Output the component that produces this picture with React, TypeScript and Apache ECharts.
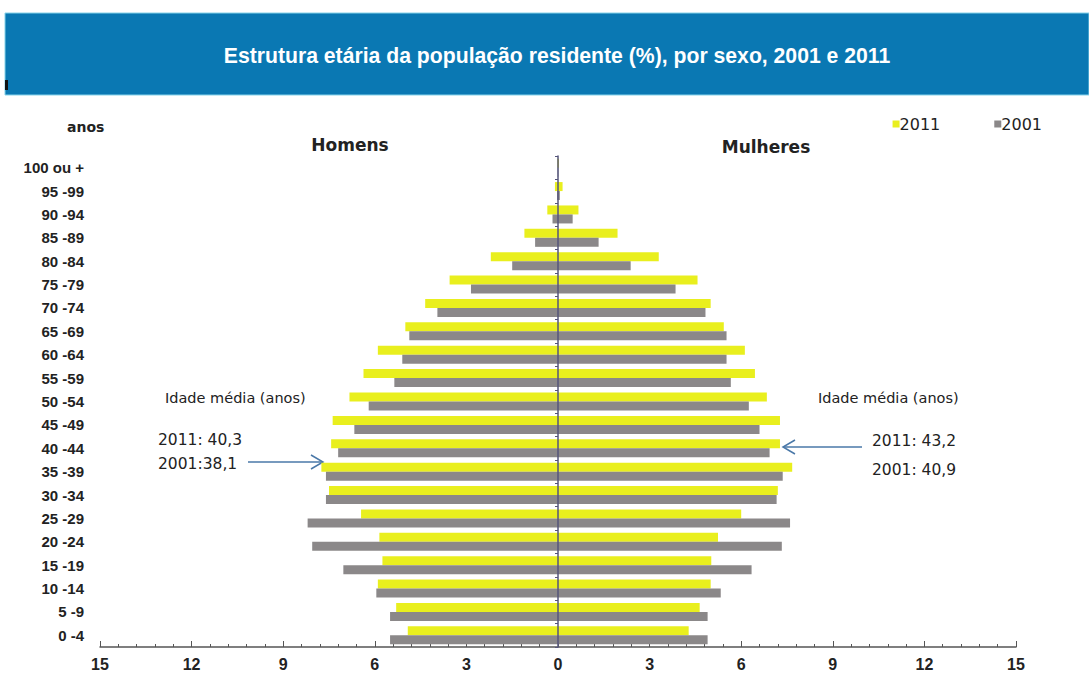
import React, { useEffect, useRef } from "react";
import * as echarts from "echarts";

// Age groups, youngest first (bottom of the pyramid)
const ageGroups = [
  "0 -4", "5 -9", "10 -14", "15 -19", "20 -24", "25 -29", "30 -34",
  "35 -39", "40 -44", "45 -49", "50 -54", "55 -59", "60 -64", "65 -69",
  "70 -74", "75 -79", "80 -84", "85 -89", "90 -94", "95 -99", "100 ou +",
];

// Share of resident population (%) by age group
const men2011 = [4.92, 5.3, 5.9, 5.75, 5.85, 6.45, 7.5, 7.75, 7.43, 7.38, 6.83, 6.37, 5.9, 5.0, 4.35, 3.55, 2.2, 1.1, 0.35, 0.1, 0.02];
const men2001 = [5.5, 5.5, 5.95, 7.03, 8.05, 8.2, 7.6, 7.6, 7.2, 6.67, 6.2, 5.36, 5.1, 4.87, 3.95, 2.85, 1.5, 0.75, 0.18, 0.03, 0.01];
const women2011 = [4.28, 4.64, 5.0, 5.02, 5.24, 6.0, 7.2, 7.67, 7.27, 7.27, 6.84, 6.45, 6.12, 5.43, 5.0, 4.57, 3.3, 1.95, 0.67, 0.15, 0.03];
const women2001 = [4.9, 4.9, 5.33, 6.34, 7.33, 7.6, 7.16, 7.36, 6.93, 6.6, 6.25, 5.66, 5.52, 5.52, 4.83, 3.85, 2.38, 1.33, 0.48, 0.06, 0.01];

const legendYears = ["2011", "2001"];
const xTicks = { min: -15, max: 15, interval: 3 };

const YELLOW = "#e9ef1e";
const GRAY = "#8b8889";
const ARROW = "#4a78a8";
const VERD = "'DejaVu Sans', Verdana, sans-serif";
const ARIAL = "'Liberation Sans', Arial, sans-serif";

export default function App() {
  const ref = useRef<HTMLDivElement>(null);

  useEffect(() => {
    if (!ref.current) return;
    const chart = echarts.init(ref.current, undefined, { renderer: "svg" });

    const barCommon = { type: "bar" as const, barWidth: 9, barGap: "0%", yAxisIndex: 0 };

    chart.setOption({
      animation: false,
      backgroundColor: "#ffffff",
      legend: {
        data: legendYears,
        right: 42,
        top: 111,
        icon: "rect",
        itemWidth: 7,
        itemHeight: 7,
        itemGap: 54,
        textStyle: { fontFamily: VERD, fontSize: 16, color: "#222", padding: [0, 0, 0, -5] },
      },
      grid: { left: 100, right: 73, top: 156, bottom: 28, containLabel: false },
      xAxis: {
        type: "value",
        min: xTicks.min,
        max: xTicks.max,
        interval: xTicks.interval,
        axisLine: { show: true, onZero: false, lineStyle: { color: "#555", width: 1.5 } },
        axisTick: { show: true, inside: true, length: 6, lineStyle: { color: "#555" } },
        minorTick: { show: true, splitNumber: 5, length: 3, lineStyle: { color: "#555" } },
        splitLine: { show: false },
        axisLabel: {
          formatter: (v: number) => String(Math.abs(v)),
          fontFamily: ARIAL,
          fontWeight: "bold",
          fontSize: 16,
          color: "#222",
          margin: 9,
        },
      },
      yAxis: [
        {
          type: "category",
          data: ageGroups,
          position: "left",
          axisLine: { show: false, onZero: false },
          axisTick: { show: false },
          axisLabel: { fontFamily: ARIAL, fontWeight: "bold", fontSize: 15, color: "#222", margin: 16 },
        },
        {
          type: "category",
          data: ageGroups,
          position: "left",
          z: 5,
          axisLine: { show: true, onZero: true, lineStyle: { color: "#55557a", width: 1.5 } },
          axisTick: { show: true, length: 3, lineStyle: { color: "#55557a" } },
          axisLabel: { show: false },
        },
      ],
      series: [
        { ...barCommon, name: "2011", stack: "y2011", itemStyle: { color: YELLOW }, data: men2011.map((v) => -v) },
        { ...barCommon, name: "2011", stack: "y2011", itemStyle: { color: YELLOW }, data: women2011 },
        { ...barCommon, name: "2001", stack: "y2001", itemStyle: { color: GRAY }, data: men2001.map((v) => -v) },
        { ...barCommon, name: "2001", stack: "y2001", itemStyle: { color: GRAY }, data: women2001 },
      ],
      graphic: [
        {
          type: "rect",
          shape: { x: 5, y: 13, width: 1084, height: 82 },
          style: { fill: "#0a78b3", stroke: "#86d3ea", lineWidth: 1 },
        },
        { type: "rect", shape: { x: 5, y: 80, width: 3, height: 10 }, style: { fill: "#111" } },
        {
          type: "text",
          x: 557,
          y: 55,
          style: {
            text: "Estrutura etária da população residente (%), por sexo, 2001 e 2011",
            fill: "#ffffff",
            font: `bold 21.2px ${ARIAL}`,
            align: "center",
            verticalAlign: "middle",
          },
        },
        {
          type: "text",
          x: 67,
          y: 127,
          style: { text: "anos", fill: "#222", font: `bold 14px ${VERD}`, verticalAlign: "middle" },
        },
        {
          type: "text",
          x: 350,
          y: 145,
          style: { text: "Homens", fill: "#222", font: `bold 17px ${VERD}`, align: "center", verticalAlign: "middle" },
        },
        {
          type: "text",
          x: 766,
          y: 147,
          style: { text: "Mulheres", fill: "#222", font: `bold 17px ${VERD}`, align: "center", verticalAlign: "middle" },
        },
        // Mean age, men
        {
          type: "text",
          x: 165,
          y: 398,
          style: { text: "Idade média (anos)", fill: "#222", font: `14.5px ${VERD}`, verticalAlign: "middle" },
        },
        {
          type: "text",
          x: 158,
          y: 440,
          style: { text: "2011: 40,3", fill: "#222", font: `15.5px ${VERD}`, verticalAlign: "middle" },
        },
        {
          type: "text",
          x: 158,
          y: 464,
          style: { text: "2001:38,1", fill: "#222", font: `15.5px ${VERD}`, verticalAlign: "middle" },
        },
        { type: "line", shape: { x1: 248, y1: 462, x2: 322, y2: 462 }, style: { stroke: ARROW, lineWidth: 1.5 } },
        {
          type: "polyline",
          shape: { points: [[311, 455], [323, 462], [311, 469]] },
          style: { stroke: ARROW, lineWidth: 1.5, fill: "none" },
        },
        // Mean age, women
        {
          type: "text",
          x: 818,
          y: 398,
          style: { text: "Idade média (anos)", fill: "#222", font: `14.5px ${VERD}`, verticalAlign: "middle" },
        },
        {
          type: "text",
          x: 872,
          y: 441,
          style: { text: "2011: 43,2", fill: "#222", font: `15.5px ${VERD}`, verticalAlign: "middle" },
        },
        {
          type: "text",
          x: 872,
          y: 470,
          style: { text: "2001: 40,9", fill: "#222", font: `15.5px ${VERD}`, verticalAlign: "middle" },
        },
        { type: "line", shape: { x1: 784, y1: 447, x2: 862, y2: 447 }, style: { stroke: ARROW, lineWidth: 1.5 } },
        {
          type: "polyline",
          shape: { points: [[795, 440], [783, 447], [795, 454]] },
          style: { stroke: ARROW, lineWidth: 1.5, fill: "none" },
        },
      ],
    });

    return () => chart.dispose();
  }, []);

  return <div ref={ref} style={{ width: 1089, height: 675, position: "absolute", left: 0, top: 0 }} />;
}
